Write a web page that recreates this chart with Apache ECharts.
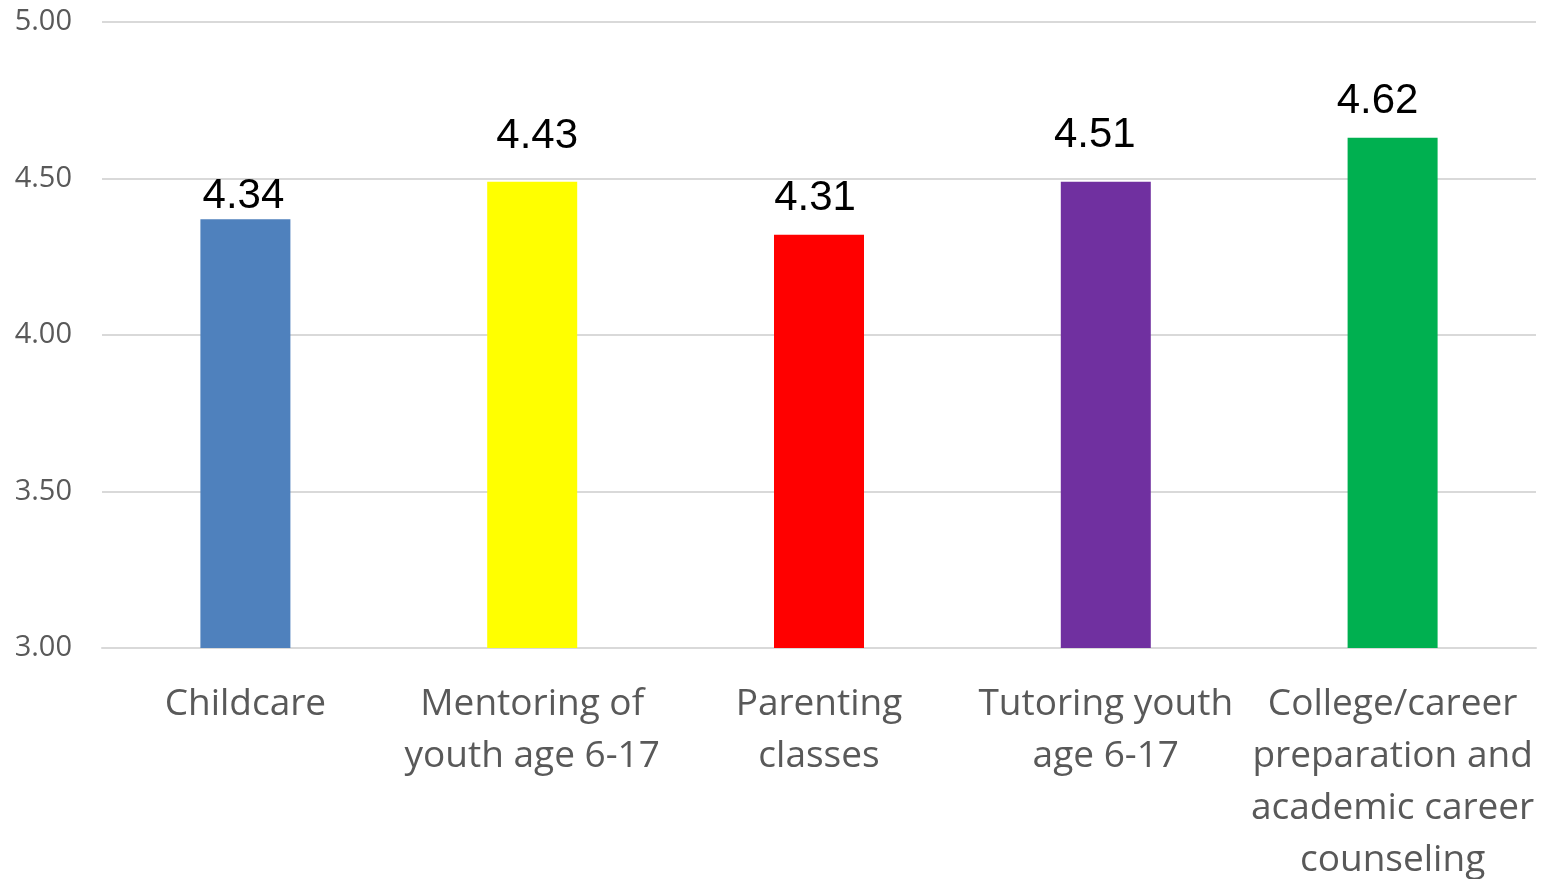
<!DOCTYPE html>
<html>
<head>
<meta charset="utf-8">
<script src="https://cdn.jsdelivr.net/npm/echarts@6/dist/echarts.min.js"></script>
<style>
html,body{margin:0;padding:0;background:#fff;overflow:hidden;}
#chart{width:1543px;height:879px;}
</style>
</head>
<body>
<div id="chart"></div>
<script>
const categories = ['Childcare', 'Mentoring of\nyouth age 6-17', 'Parenting\nclasses', 'Tutoring youth\nage 6-17', 'College/career\npreparation and\nacademic career\ncounseling'];
const barValues = [4.37, 4.49, 4.32, 4.49, 4.63];
const labelTexts = ['4.34', '4.43', '4.31', '4.51', '4.62'];
const yTicks = [3.0, 3.5, 4.0, 4.5, 5.0];

const barColors = ['#4f81bd', '#ffff00', '#ff0000', '#7030a0', '#00b050'];
const labelShift = [[-2, 0], [5, -22], [-4, -13], [-11, -23], [-15, -13]];

const chart = echarts.init(document.getElementById('chart'));
chart.setOption({
  animation: false,
  grid: {left: 102, right: 7, top: 22, bottom: 231, containLabel: false, outerBoundsMode: 'none'},
  xAxis: {
    type: 'category',
    data: categories,
    axisLine: {show: true, lineStyle: {color: '#d9d9d9', width: 2}},
    axisTick: {show: false},
    axisLabel: {
      interval: 0,
      margin: 30,
      color: '#595959',
      fontFamily: 'Open Sans',
      fontSize: 37,
      lineHeight: 52
    }
  },
  yAxis: {
    type: 'value',
    min: yTicks[0],
    max: yTicks[yTicks.length - 1],
    interval: 0.5,
    axisLine: {show: false},
    axisTick: {show: false},
    splitLine: {lineStyle: {color: '#d9d9d9', width: 2}},
    axisLabel: {
      margin: 30,
      color: '#595959',
      fontFamily: 'Open Sans',
      fontSize: 29,
      formatter: v => v.toFixed(2)
    }
  },
  series: [{
    type: 'bar',
    barWidth: 90,
    data: barValues.map((v, i) => ({
      value: v,
      itemStyle: {color: barColors[i]},
      label: {
        show: true,
        position: 'top',
        distance: 2,
        offset: labelShift[i],
        formatter: labelTexts[i],
        color: '#000',
        fontFamily: 'Liberation Sans',
        fontSize: 42
      }
    }))
  }]
});
</script>
</body>
</html>
